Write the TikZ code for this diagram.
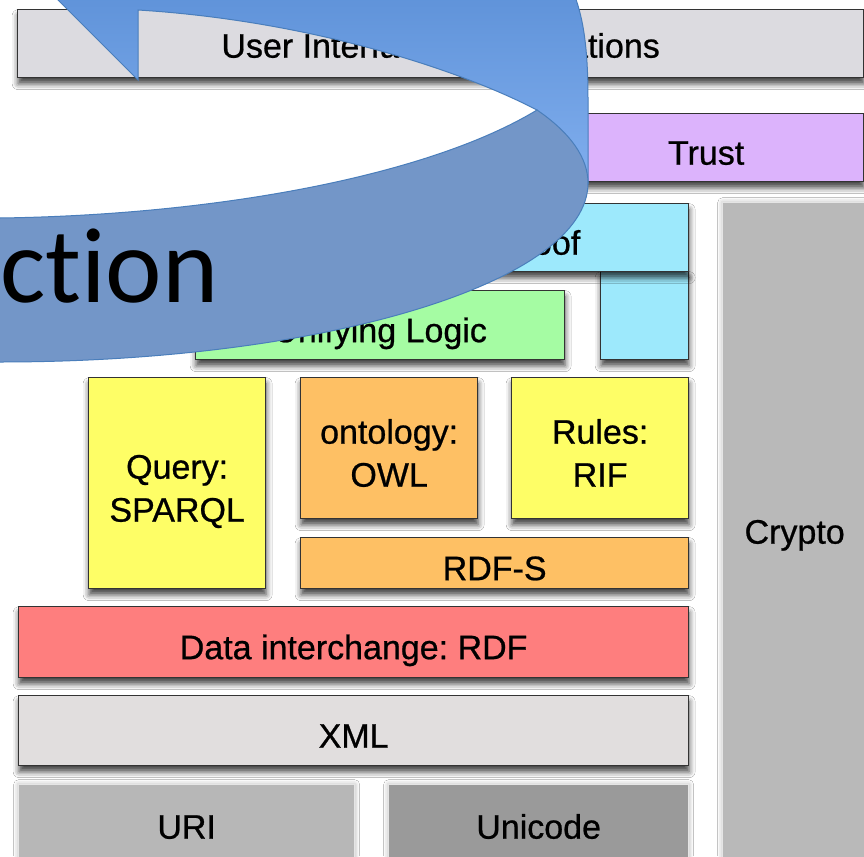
\documentclass[tikz,border=0pt]{standalone}
\usepackage{fontspec}
\setmainfont{Liberation Sans}
\newfontfamily\layerfont[FakeBold=0.7]{Liberation Sans}
\newfontfamily\carlito[Ligatures=NoCommon]{Carlito}
\usetikzlibrary{shadows.blur}
\definecolor{cUI}{HTML}{DCDBE0}
\definecolor{cTrust}{HTML}{DCB3FC}
\definecolor{cProof}{HTML}{9DE9FC}
\definecolor{cLogic}{HTML}{A5FCA3}
\definecolor{cYellow}{HTML}{FEFE66}
\definecolor{cOrange}{HTML}{FEC064}
\definecolor{cRDF}{HTML}{FE7E7E}
\definecolor{cXML}{HTML}{E1DEDE}
\definecolor{cURI}{HTML}{B7B7B7}
\definecolor{cUnicode}{HTML}{9A9A9A}
\definecolor{cCrypto}{HTML}{B9B9B9}
\definecolor{cArrowTop}{HTML}{5C90D7}
\definecolor{cArrowBot}{HTML}{80AEEE}
\definecolor{cArrowDark}{HTML}{7396C8}
\definecolor{cArrowLine}{HTML}{4A7EBB}
\tikzset{
  layer/.style={draw=black!80, line width=1.3pt, anchor=north west, inner sep=0pt,
    align=center, font=\layerfont\fontsize{34}{43}\selectfont, text height=34pt, text depth=0pt,
    blur shadow={shadow xshift=0.5pt, shadow yshift=-6pt, shadow blur radius=6pt, shadow opacity=75}},
  softlayer/.style={draw=white!90!black, line width=1.3pt, anchor=north west, inner sep=0pt,
    align=center, font=\layerfont\fontsize{34}{43}\selectfont, text height=34pt, text depth=0pt,
    blur shadow={shadow xshift=0pt, shadow yshift=0pt, shadow blur radius=5pt, shadow opacity=35}},
  twolines/.style={text height=77pt},
  lightarrow/.style={top color=cArrowTop, bottom color=cArrowBot, draw=cArrowLine, line width=1pt},
  darkarrow/.style={fill=cArrowDark, draw=cArrowLine, line width=1pt}
}
\frenchspacing
\begin{document}
\begin{tikzpicture}[x=1pt, y=-1pt]
\useasboundingbox (0,0) rectangle (864,856);
\fill[white] (0,0) rectangle (864,856);
\begin{scope}
\clip (0,0) rectangle (864,856);
% layers
\node[layer, fill=cUI, minimum width=846pt, minimum height=68pt, text height=28pt] (ui) at (17,9) {User Interface \& Applications};
\node[layer, fill=cTrust, minimum width=315pt, minimum height=68pt] (trust) at (548,113) {Trust};
\node[layer, fill=cProof, minimum width=88pt, minimum height=88pt] (proofside) at (600,271) {};
\node[layer, fill=cProof, minimum width=298pt, minimum height=68pt] (proof) at (390,203) {Proof};
\node[layer, fill=cLogic, minimum width=369pt, minimum height=69pt] (logic) at (195,290) {Unifying Logic};
\node[layer, twolines, fill=cYellow, minimum width=177pt, minimum height=211pt] (query) at (88,377) {Query:\\SPARQL};
\node[layer, twolines, fill=cOrange, minimum width=177pt, minimum height=141pt] (owl) at (300,377) {ontology:\\OWL};
\node[layer, twolines, fill=cYellow, minimum width=177pt, minimum height=141pt] (rif) at (511,377) {Rules:\\RIF};
\node[layer, fill=cOrange, minimum width=388pt, minimum height=51pt] (rdfs) at (300,537) {RDF-S};
\node[layer, fill=cRDF, minimum width=670pt, minimum height=71pt] (rdf) at (18,606) {Data interchange: RDF};
\node[layer, fill=cXML, minimum width=670pt, minimum height=70pt] (xml) at (18,695) {XML};
\node[softlayer, fill=cURI, minimum width=336pt, minimum height=74pt] (uri) at (18,784) {URI};
\node[softlayer, fill=cUnicode, minimum width=300pt, minimum height=74pt] (unicode) at (388,784) {Unicode};
\node[softlayer, fill=cCrypto, minimum width=144pt, minimum height=656pt, text height=26pt] (crypto) at (722,202) {Crypto};
% curved arrow overlay
\path[lightarrow] (138,80) -- (138,10) .. controls (300,20) and (450,65) .. (537,110)
  -- (588,183) -- (588,100) .. controls (588,40) and (582,5) .. (565,-25) -- (33,-25) -- cycle;
\path[darkarrow] (-10,218) -- (0,218) .. controls (220,215) and (430,175) .. (537,110)
  .. controls (570.5,132.9) and (588,157.9) .. (588,183)
  .. controls (588,282) and (325,362) .. (0,362) -- (-10,362) -- cycle;
\node[anchor=base west, inner sep=0pt, font=\carlito\fontsize{107}{107}\selectfont] (ction) at (0,302) {ction};
\end{scope}
\end{tikzpicture}
\end{document}
